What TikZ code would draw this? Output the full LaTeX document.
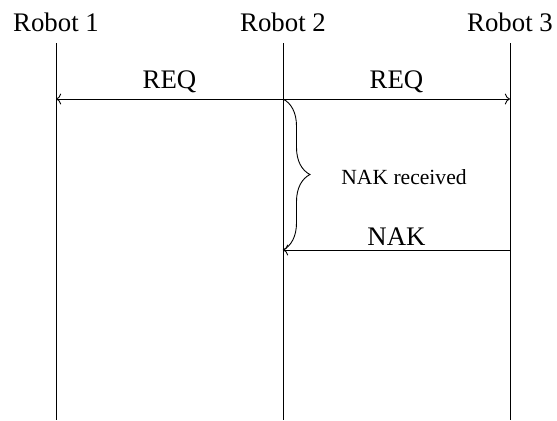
\documentclass[tikz,border=0pt]{standalone}
\usepackage{fontspec}
\setmainfont{Liberation Serif}
\usetikzlibrary{arrows.meta, decorations.pathreplacing}

\tikzset{
  lifeline/.style={draw=black, line width=0.45pt},
  msg/.style={->, line width=0.45pt},
  msglabel/.style={above, inner sep=3pt}
}

\begin{document}
\begin{tikzpicture}[x=0.5pt, y=-0.5pt, font=\fontsize{13.4}{16}\selectfont]
    \useasboundingbox (0,0) rectangle (557,420);

    % Robots and their lifelines
    \foreach \i/\x in {1/56, 2/283, 3/510} {
      \node (robot\i) at (\x, 22) {Robot \i};
      \coordinate (top\i) at (\x, 43);
      \coordinate (bot\i) at (\x, 420);
      \draw[lifeline] (top\i) -- (bot\i);
    }

    % Points where the messages meet the lifelines
    \coordinate (req1) at (56, 99);
    \coordinate (req2) at (283, 99);
    \coordinate (req3) at (510, 99);
    \coordinate (nak2) at (283, 250);
    \coordinate (nak3) at (510, 250);

    % REQ sent both ways
    \draw[msg] (req2) -- node[msglabel] {REQ} (req1);
    \draw[msg] (req2) -- node[msglabel] {REQ} (req3);

    % NAK back from Robot 3
    \draw[msg] (nak3) -- node[msglabel, inner sep=2pt] {NAK} (nak2);

    % Waiting time
    \draw[decorate, decoration={brace, amplitude=13.5pt}, line width=0.45pt] (req2) -- (nak2);
    \node[font=\fontsize{10.8}{13}\selectfont] (wait) at (404, 177) {NAK received};
\end{tikzpicture}
\end{document}
